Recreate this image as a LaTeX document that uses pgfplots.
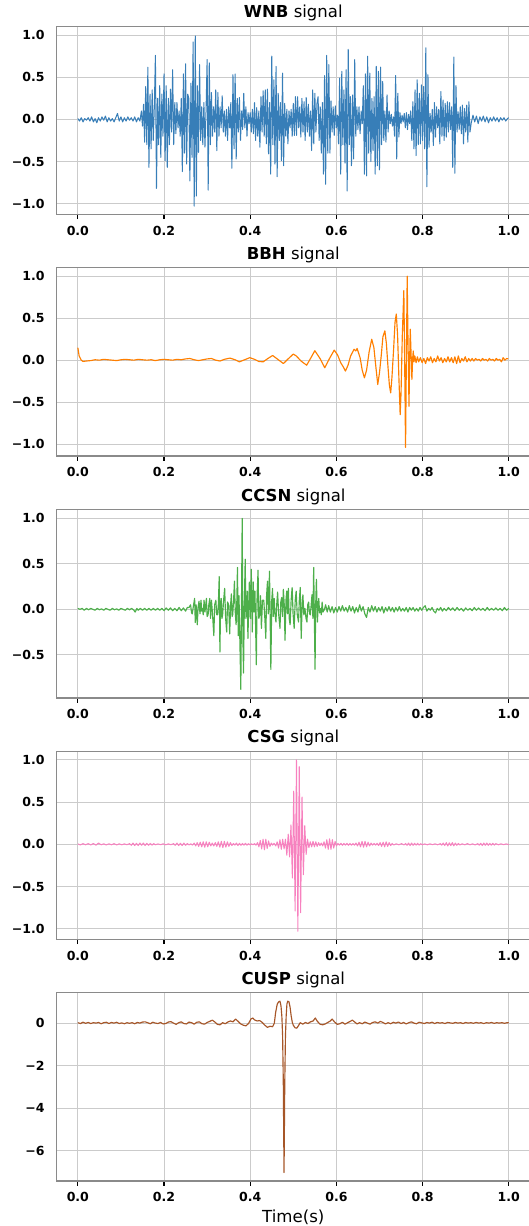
\documentclass[border=0pt]{standalone}
\usepackage{pgfplots}
\pgfplotsset{compat=1.18}
\usepackage{fontspec}
\setmainfont{DejaVu Sans}
\definecolor{cBlue}{HTML}{377EB8}
\definecolor{cOrange}{HTML}{FF7F00}
\definecolor{cGreen}{HTML}{4DAF4A}
\definecolor{cPink}{HTML}{F781BF}
\definecolor{cBrown}{HTML}{A65628}
\definecolor{gridc}{HTML}{CBCBCB}
\definecolor{spinec}{HTML}{8A8A8A}
\pgfplotsset{
  panel/.style={
    scale only axis, width=474pt, height=188.3pt,
    anchor=north west,
    xmin=-0.05, xmax=1.05,
    xtick={0,0.2,0.4,0.6,0.8,1.0},
    xticklabels={0.0,0.2,0.4,0.6,0.8,1.0},
    grid=major,
    major grid style={draw=gridc, line width=0.9pt},
    axis line style={draw=spinec, line width=1.1pt},
    tick align=outside,
    major tick length=4.5pt,
    xtick pos=left, ytick pos=left,
    xtick style={draw=black, line width=1.1pt},
    ytick style={draw=none},
    ticklabel style={font=\fontsize{12.5}{15}\selectfont\bfseries},
    xticklabel style={anchor=north, inner sep=0pt, yshift=-7pt},
    yticklabel style={anchor=east, inner sep=0pt, xshift=-7pt},
    title style={font=\fontsize{16.5}{20}\selectfont, anchor=base, at={(0.5,1)}, yshift=2.6pt, inner sep=0pt},
    every axis plot/.append style={line join=round, line width=1.15pt},
  }
}
\begin{document}
\begin{tikzpicture}
% ---------------- WNB ----------------
\begin{axis}[panel, at={(56.3pt,-26.3pt)}, ymin=-1.13, ymax=1.105,
  ytick={-1,-0.5,0,0.5,1}, yticklabels={−1.0,−0.5,0.0,0.5,1.0},
  title={\textbf{WNB} signal}]
\addplot[cBlue, line width=1pt] coordinates {
(0.000,0.01)(0.004,-0.02)(0.008,0.02)(0.012,-0.03)(0.016,0.01)(0.020,-0.01)(0.024,0.02)(0.028,-0.02)
(0.032,0.03)(0.036,-0.03)(0.040,0.01)(0.044,-0.04)(0.048,0.02)(0.052,-0.02)(0.056,0.03)(0.060,-0.01)
(0.064,0.04)(0.068,-0.03)(0.072,0.02)(0.076,-0.02)(0.080,0.01)(0.084,-0.03)(0.088,0.02)(0.092,0.07)
(0.096,-0.02)(0.100,0.03)(0.104,-0.03)(0.108,0.02)(0.112,-0.02)(0.116,0.03)(0.120,-0.01)(0.124,0.02)
(0.128,-0.02)(0.132,0.03)(0.136,-0.03)(0.140,0.02)(0.144,-0.02)
(0.1475,0.10)(0.1500,-0.08)(0.1525,0.18)(0.1550,-0.27)
(0.1575,0.39)(0.1600,-0.30)(0.1625,0.62)(0.1650,-0.57)
(0.1675,0.30)(0.1700,-0.35)(0.1725,0.35)(0.1750,-0.25)
(0.1775,0.15)(0.1800,0.76)(0.1825,-0.82)(0.1850,0.25)
(0.1875,-0.30)(0.1900,0.40)(0.1925,-0.45)(0.1950,0.30)
(0.1975,-0.20)(0.2000,0.54)(0.2025,-0.49)(0.2050,0.40)
(0.2075,-0.57)(0.2100,0.25)(0.2125,-0.30)(0.2150,0.36)
(0.2175,-0.15)(0.2200,0.59)(0.2225,-0.30)(0.2250,0.20)
(0.2275,-0.17)(0.2300,0.20)(0.2325,-0.10)(0.2350,0.10)
(0.2375,-0.20)(0.2400,0.25)(0.2425,-0.62)(0.2450,0.54)
(0.2475,-0.40)(0.2500,0.66)(0.2525,-0.53)(0.2550,0.30)
(0.2575,0.25)(0.2600,-0.73)(0.2625,0.43)(0.2650,-0.45)
(0.2675,0.92)(0.2700,-1.03)(0.2725,0.99)(0.2750,-0.91)
(0.2775,0.40)(0.2800,-0.39)(0.2825,0.65)(0.2850,-0.25)
(0.2875,0.15)(0.2900,-0.30)(0.2925,0.20)(0.2950,-0.33)
(0.2975,0.10)(0.3000,0.71)(0.3025,-0.84)(0.3050,0.67)
(0.3075,-0.30)(0.3100,0.32)(0.3125,-0.20)(0.3150,0.15)
(0.3175,-0.15)(0.3200,0.35)(0.3225,-0.37)(0.3250,0.32)
(0.3275,-0.20)(0.3300,0.15)(0.3325,-0.10)(0.3350,0.28)
(0.3375,-0.15)(0.3400,0.10)(0.3425,-0.20)(0.3450,0.12)
(0.3475,-0.25)(0.3500,0.15)(0.3525,-0.10)(0.3550,0.20)
(0.3575,-0.58)(0.3600,0.53)(0.3625,-0.35)(0.3650,0.54)
(0.3675,-0.47)(0.3700,0.25)(0.3725,-0.15)(0.3750,0.26)
(0.3775,-0.25)(0.3800,0.10)(0.3825,-0.12)(0.3850,0.31)
(0.3875,-0.10)(0.3900,0.15)(0.3925,-0.20)(0.3950,0.08)
(0.3975,-0.05)(0.4000,0.08)(0.4025,-0.15)(0.4050,0.12)
(0.4075,-0.17)(0.4100,0.20)(0.4125,-0.25)(0.4150,0.14)
(0.4175,-0.20)(0.4200,0.10)(0.4225,-0.33)(0.4250,0.27)
(0.4275,-0.15)(0.4300,0.34)(0.4325,-0.20)(0.4350,0.35)
(0.4375,-0.29)(0.4400,0.36)(0.4425,-0.41)(0.4450,0.20)
(0.4475,-0.65)(0.4500,0.75)(0.4525,-0.30)(0.4550,0.47)
(0.4575,-0.53)(0.4600,0.63)(0.4625,-0.68)(0.4650,0.31)
(0.4675,-0.25)(0.4700,0.20)(0.4725,-0.49)(0.4750,0.55)
(0.4775,-0.55)(0.4800,0.19)(0.4825,-0.20)(0.4850,0.12)
(0.4875,-0.29)(0.4900,0.10)(0.4925,-0.10)(0.4950,0.12)
(0.4975,-0.20)(0.5000,0.19)(0.5025,-0.19)(0.5050,0.27)
(0.5075,-0.19)(0.5100,0.27)(0.5125,-0.10)(0.5150,0.15)
(0.5175,-0.21)(0.5200,0.25)(0.5225,-0.15)(0.5250,0.21)
(0.5275,-0.25)(0.5300,0.26)(0.5325,-0.15)(0.5350,0.18)
(0.5375,-0.20)(0.5400,0.10)(0.5425,-0.37)(0.5450,0.35)
(0.5475,-0.29)(0.5500,0.31)(0.5525,-0.15)(0.5550,0.19)
(0.5575,0.27)(0.5600,-0.25)(0.5625,0.15)(0.5650,-0.40)
(0.5675,0.20)(0.5700,-0.65)(0.5725,0.52)(0.5750,-0.77)
(0.5775,0.76)(0.5800,-0.40)(0.5825,0.65)(0.5850,-0.40)
(0.5875,0.22)(0.5900,-0.15)(0.5925,0.15)(0.5950,-0.19)
(0.5975,0.16)(0.6000,-0.10)(0.6025,0.05)(0.6050,-0.29)
(0.6075,0.49)(0.6100,-0.65)(0.6125,0.57)(0.6150,-0.30)
(0.6175,0.35)(0.6200,-0.52)(0.6225,0.59)(0.6250,-0.85)
(0.6275,0.83)(0.6300,-0.30)(0.6325,0.27)(0.6350,-0.55)
(0.6375,0.29)(0.6400,-0.47)(0.6425,0.71)(0.6450,-0.20)
(0.6475,0.15)(0.6500,-0.12)(0.6525,0.15)(0.6550,-0.17)
(0.6575,0.10)(0.6600,-0.05)(0.6625,0.40)(0.6650,-0.65)
(0.6675,0.54)(0.6700,-0.67)(0.6725,0.75)(0.6750,-0.40)
(0.6775,0.55)(0.6800,-0.50)(0.6825,0.25)(0.6850,-0.37)
(0.6875,0.27)(0.6900,-0.65)(0.6925,0.63)(0.6950,-0.55)
(0.6975,0.57)(0.7000,-0.60)(0.7025,0.62)(0.7050,-0.30)
(0.7075,0.45)(0.7100,-0.25)(0.7125,0.10)(0.7150,-0.27)
(0.7175,0.29)(0.7200,-0.15)(0.7225,0.10)(0.7250,-0.05)
(0.7275,0.06)(0.7300,-0.08)(0.7325,0.03)(0.7350,-0.20)
(0.7375,0.52)(0.7400,-0.47)(0.7425,0.31)(0.7450,-0.21)
(0.7475,0.08)(0.7500,-0.05)(0.7525,0.05)(0.7550,-0.03)
(0.7575,0.07)(0.7600,-0.10)(0.7625,0.08)(0.7650,-0.12)
(0.7675,0.06)(0.7700,-0.05)(0.7725,0.10)(0.7750,-0.25)
(0.7775,0.21)(0.7800,-0.35)(0.7825,0.35)(0.7850,-0.43)
(0.7875,0.47)(0.7900,-0.30)(0.7925,0.31)(0.7950,-0.29)
(0.7975,0.41)(0.8000,-0.25)(0.8025,0.39)(0.8050,-0.35)
(0.8075,0.85)(0.8100,-0.80)(0.8125,0.53)(0.8150,-0.33)
(0.8175,0.07)(0.8200,-0.15)(0.8225,0.12)(0.8250,-0.31)
(0.8275,0.20)(0.8300,-0.21)(0.8325,0.15)(0.8350,-0.10)
(0.8375,0.12)(0.8400,-0.29)(0.8425,0.33)(0.8450,-0.20)
(0.8475,0.23)(0.8500,-0.25)(0.8525,0.19)(0.8550,-0.21)
(0.8575,0.21)(0.8600,-0.15)(0.8625,0.20)(0.8650,-0.12)
(0.8675,0.15)(0.8700,-0.57)(0.8725,0.74)(0.8750,-0.64)
(0.8775,0.40)(0.8800,-0.15)(0.8825,0.09)(0.8850,-0.12)
(0.8875,0.15)(0.8900,-0.17)(0.8925,0.17)(0.8950,-0.29)
(0.8975,0.13)(0.9000,-0.15)(0.9025,0.17)(0.9050,-0.27)
(0.9075,0.21)(0.9100,-0.15)
(0.913,-0.04)(0.917,0.05)(0.921,-0.03)(0.925,0.04)(0.929,-0.05)(0.933,0.03)(0.937,-0.02)(0.941,0.04)
(0.945,-0.03)(0.949,0.03)(0.953,-0.04)(0.957,0.02)(0.961,-0.02)(0.965,0.03)(0.969,-0.02)(0.973,0.02)
(0.977,-0.03)(0.981,0.02)(0.985,-0.01)(0.989,0.02)(0.993,-0.02)(0.997,0.01)(1.000,0.02)
};
\end{axis}
% ---------------- BBH ----------------
\begin{axis}[panel, at={(56.3pt,-267.7pt)}, ymin=-1.142, ymax=1.102,
  ytick={-1,-0.5,0,0.5,1}, yticklabels={−1.0,−0.5,0.0,0.5,1.0},
  title={\textbf{BBH} signal}]
\addplot[cOrange] coordinates {
(0.000,0.15)(0.003,0.05)(0.008,0.00)(0.012,-0.015)(0.020,-0.01)(0.030,-0.005)(0.040,0.005)(0.050,0.00)
(0.060,0.01)(0.070,0.005)(0.080,0.00)(0.090,-0.005)(0.100,0.005)(0.110,0.01)(0.120,0.005)(0.130,0.00)
(0.140,0.01)(0.150,0.005)(0.160,0.00)(0.170,0.005)(0.180,-0.005)(0.190,0.005)(0.200,0.01)(0.210,0.005)
(0.220,0.00)(0.230,0.01)(0.240,0.005)(0.250,0.015)(0.260,0.02)(0.270,0.005)(0.280,-0.005)(0.290,0.005)
(0.300,0.015)(0.310,0.02)(0.320,0.00)(0.330,-0.01)(0.340,0.01)(0.353,0.025)(0.365,0.005)(0.375,-0.02)
(0.387,0.005)(0.399,0.03)(0.410,0.01)(0.420,-0.015)(0.430,-0.02)(0.441,0.02)(0.452,0.056)(0.464,0.01)
(0.477,-0.04)(0.489,0.02)(0.500,0.073)(0.507,0.05)(0.518,-0.01)(0.531,-0.06)(0.541,0.03)(0.550,0.113)
(0.562,0.02)(0.573,-0.09)(0.584,0.02)(0.595,0.12)(0.603,0.06)(0.610,-0.03)(0.616,-0.08)(0.621,-0.13)
(0.627,-0.06)(0.633,0.05)(0.641,0.13)(0.645,0.11)(0.648,0.14)(0.655,0.03)(0.660,-0.12)(0.665,-0.21)
(0.670,-0.12)(0.676,0.10)(0.682,0.25)(0.687,0.15)(0.691,-0.05)(0.696,-0.29)(0.700,-0.15)(0.704,0.05)
(0.708,0.28)(0.7125,0.35)(0.716,0.20)(0.720,-0.10)(0.723,-0.30)(0.726,-0.39)(0.729,-0.20)(0.733,0.15)
(0.736,0.45)(0.739,0.55)(0.742,0.30)(0.745,-0.20)(0.748,-0.65)(0.750,-0.40)(0.753,0.30)(0.7565,0.83)
(0.758,0.20)(0.7605,-1.04)(0.762,-0.20)(0.7643,1.0)(0.766,0.30)(0.7685,-0.55)(0.770,0.0)(0.7714,0.37)
(0.7735,0.05)(0.7752,-0.23)(0.777,0.02)(0.7784,0.11)(0.780,-0.02)(0.782,0.05)(0.785,-0.03)
(0.788,0.04)(0.791,-0.02)(0.795,0.03)(0.799,-0.03)(0.803,0.02)(0.807,-0.04)(0.811,0.03)(0.815,-0.01)
(0.819,0.04)(0.823,-0.03)(0.827,0.02)(0.831,-0.02)(0.835,0.05)(0.839,-0.01)(0.843,0.03)(0.847,-0.03)
(0.851,0.02)(0.855,-0.02)(0.859,0.04)(0.863,-0.02)(0.867,0.03)(0.871,-0.03)(0.875,0.04)(0.879,-0.04)
(0.883,0.05)(0.887,-0.03)(0.891,0.02)(0.895,-0.01)(0.899,0.04)(0.903,-0.02)(0.907,0.02)(0.911,-0.01)
(0.915,0.02)(0.919,-0.01)(0.923,0.02)(0.927,0.00)(0.931,0.01)(0.935,-0.01)(0.939,0.02)(0.943,0.00)
(0.947,0.01)(0.951,-0.01)(0.955,0.02)(0.959,0.00)(0.963,0.01)(0.967,-0.01)(0.971,0.02)(0.975,0.00)
(0.979,0.01)(0.983,-0.02)(0.987,0.03)(0.991,0.00)(0.995,0.02)(0.999,0.015)
};
\end{axis}
% ---------------- CCSN ----------------
\begin{axis}[panel, at={(56.3pt,-509.7pt)}, ymin=-0.975, ymax=1.095,
  ytick={-0.5,0,0.5,1}, yticklabels={−0.5,0.0,0.5,1.0},
  title={\textbf{CCSN} signal}]
\addplot[cGreen] coordinates {
(0.000,0.01)(0.005,0.00)(0.010,0.01)(0.015,-0.01)(0.020,0.01)(0.025,-0.005)(0.030,0.01)(0.035,0.00)
(0.040,-0.01)(0.045,0.01)(0.050,-0.005)(0.055,0.005)(0.060,-0.01)(0.065,0.01)(0.070,0.00)(0.075,-0.01)
(0.080,0.01)(0.085,-0.005)(0.090,0.005)(0.095,-0.01)(0.100,0.01)(0.105,0.00)(0.110,-0.01)(0.115,0.01)
(0.120,-0.005)(0.125,0.01)(0.130,-0.01)(0.133,-0.03)(0.137,0.01)(0.140,-0.01)(0.145,0.01)(0.150,-0.01)
(0.155,0.01)(0.160,-0.01)(0.165,0.01)(0.170,-0.01)(0.175,0.01)(0.180,-0.01)(0.185,0.01)(0.190,-0.01)
(0.195,0.01)(0.200,-0.015)(0.205,0.015)(0.210,-0.01)(0.215,0.015)(0.220,-0.015)(0.225,0.01)(0.230,-0.015)
(0.235,0.02)(0.240,-0.015)(0.245,0.015)(0.250,-0.02)(0.254,0.02)
(0.2580,0.02)(0.2616,0.05)(0.2640,-0.04)(0.2655,-0.05)(0.2680,0.03)(0.2710,0.12)(0.2725,-0.145)(0.2745,0.05)
(0.2772,-0.17)(0.2790,0.02)(0.2812,0.09)(0.2835,-0.05)(0.2858,0.10)(0.2875,-0.02)(0.2890,0.01)(0.2910,-0.06)
(0.2929,0.10)(0.2950,-0.03)(0.2984,0.12)(0.3000,-0.08)(0.3023,-0.06)(0.3040,0.05)(0.3062,0.12)(0.3080,-0.10)
(0.3101,0.10)(0.3125,-0.05)(0.3156,-0.29)(0.3175,0.05)(0.3203,0.10)(0.3222,-0.06)(0.3242,-0.06)(0.3260,0.05)
(0.3281,0.36)(0.3297,-0.47)(0.3312,0.02)(0.3328,0.12)(0.3345,-0.10)(0.3360,-0.06)(0.3383,0.10)(0.3407,0.23)
(0.3430,-0.10)(0.3454,-0.25)(0.3475,0.08)(0.3500,0.05)(0.3524,-0.27)(0.3545,0.05)(0.3563,0.17)(0.3580,-0.08)
(0.3594,-0.06)(0.3615,0.10)(0.3634,0.31)(0.3655,-0.05)(0.3673,-0.17)(0.3690,0.10)(0.3704,0.46)(0.3722,-0.29)
(0.3740,0.15)(0.3760,-0.35)(0.3782,-0.88)(0.3800,0.20)(0.3814,1.00)(0.3830,-0.30)(0.3845,-0.70)(0.3865,0.10)
(0.3884,0.55)(0.3900,-0.10)(0.3915,-0.06)(0.3930,0.20)(0.3947,-0.32)(0.3965,0.05)(0.3980,0.30)(0.4002,-0.10)
(0.4025,0.44)(0.4048,-0.25)(0.4070,0.30)(0.4088,-0.03)(0.4110,0.20)(0.4142,-0.61)(0.4160,0.15)(0.4182,0.43)
(0.4200,-0.10)(0.4221,-0.06)(0.4240,0.15)(0.4260,-0.21)(0.4285,0.10)(0.4315,0.10)(0.4340,-0.10)(0.4362,-0.32)
(0.4380,0.15)(0.4401,0.31)(0.4420,-0.05)(0.4448,0.42)(0.4479,-0.66)(0.4500,0.10)(0.4518,0.23)(0.4535,-0.08)
(0.4557,0.12)(0.4575,-0.05)(0.4597,-0.14)(0.4615,0.05)(0.4636,0.19)(0.4660,-0.05)(0.4691,-0.21)(0.4710,0.08)
(0.4730,0.13)(0.4750,-0.08)(0.4769,0.22)(0.4790,0.05)(0.4808,-0.34)(0.4830,0.10)(0.4847,0.20)(0.4865,-0.05)
(0.4886,0.23)(0.4905,-0.10)(0.4926,-0.17)(0.4950,0.10)(0.4973,0.24)(0.4995,-0.05)(0.5020,-0.21)(0.5045,0.10)
(0.5067,0.20)(0.5090,-0.05)(0.5121,-0.14)(0.5140,0.10)(0.5161,0.24)(0.5184,-0.32)(0.5205,0.05)(0.5223,0.16)
(0.5245,-0.06)(0.5270,0.01)(0.5295,-0.10)(0.5317,-0.14)(0.5335,0.05)(0.5356,0.08)(0.5375,-0.05)(0.5395,-0.06)
(0.5415,0.05)(0.5434,0.16)(0.5455,-0.10)(0.5473,0.46)(0.5505,-0.66)(0.5520,0.05)(0.5536,0.33)(0.5560,-0.14)
(0.5575,0.02)(0.5591,0.12)(0.5610,-0.04)(0.5630,0.01)(0.5650,-0.06)(0.5669,0.08)(0.5690,-0.03)(0.5724,0.00)
(0.5750,0.05)(0.5787,-0.03)
(0.582,0.04)(0.586,-0.03)(0.590,0.03)(0.594,-0.04)(0.598,0.02)(0.602,-0.03)(0.606,0.03)(0.610,-0.02)
(0.614,0.04)(0.618,-0.02)(0.622,0.02)(0.626,-0.03)(0.630,0.04)(0.634,-0.02)(0.638,0.03)(0.642,-0.04)
(0.646,0.02)(0.650,-0.03)(0.654,0.05)(0.658,-0.02)(0.662,0.03)(0.666,-0.05)(0.670,-0.09)(0.674,0.02)
(0.678,-0.03)(0.682,0.04)(0.686,-0.02)(0.690,0.03)(0.694,-0.03)(0.698,0.02)(0.702,-0.02)(0.706,0.03)
(0.710,-0.04)(0.714,0.02)(0.718,-0.02)(0.722,0.03)(0.726,-0.02)(0.730,0.02)(0.734,-0.03)(0.738,0.02)
(0.742,-0.02)(0.746,0.03)(0.750,-0.02)(0.754,0.01)(0.758,-0.02)(0.762,0.02)(0.766,-0.03)(0.770,0.02)
(0.774,-0.01)(0.778,0.02)(0.782,-0.02)(0.786,0.01)(0.790,-0.02)(0.794,0.02)(0.798,-0.01)(0.802,0.02)
(0.806,0.04)(0.810,-0.02)(0.814,0.01)(0.818,-0.01)(0.822,0.02)(0.826,-0.02)(0.830,-0.04)(0.834,0.01)
(0.838,-0.01)(0.842,0.02)(0.846,-0.02)(0.850,0.01)(0.855,-0.015)(0.860,0.02)(0.865,-0.01)(0.870,0.015)
(0.875,-0.015)(0.880,0.02)(0.885,-0.01)(0.890,0.01)(0.895,-0.02)(0.900,0.015)(0.905,-0.01)(0.910,0.01)
(0.915,-0.015)(0.920,0.02)(0.925,-0.01)(0.930,0.015)(0.935,-0.01)(0.940,0.01)(0.945,-0.015)(0.950,0.02)
(0.955,-0.01)(0.960,0.01)(0.965,-0.01)(0.970,0.015)(0.975,-0.01)(0.980,0.01)(0.985,-0.015)(0.990,0.02)
(0.995,-0.01)(1.000,0.01)
};
\end{axis}
% ---------------- CSG ----------------
\begin{axis}[panel, at={(56.3pt,-751.4pt)}, ymin=-1.13, ymax=1.10,
  ytick={-1,-0.5,0,0.5,1}, yticklabels={−1.0,−0.5,0.0,0.5,1.0},
  title={\textbf{CSG} signal}]
\addplot[cPink, line width=1pt] coordinates {
(0.000,0.005)(0.006,-0.008)(0.012,0.008)(0.018,-0.006)(0.024,0.008)(0.030,-0.008)(0.036,0.01)(0.042,-0.01)
(0.048,0.015)(0.054,-0.006)(0.060,0.006)(0.066,-0.008)(0.072,0.006)(0.078,-0.006)(0.084,0.008)(0.090,-0.008)
(0.096,0.006)(0.102,-0.006)(0.108,0.005)(0.114,-0.005)(0.120,0.008)
(0.124,-0.012)(0.128,0.015)(0.132,-0.015)(0.136,0.012)(0.140,-0.015)(0.144,0.015)(0.148,-0.012)(0.152,0.015)
(0.156,-0.015)(0.160,0.012)(0.164,-0.012)(0.168,0.010)(0.172,-0.010)(0.176,0.008)(0.180,-0.006)
(0.186,0.005)(0.192,-0.005)(0.198,0.006)(0.204,-0.006)(0.210,0.005)(0.216,-0.005)(0.222,0.008)
(0.226,-0.012)(0.230,0.015)(0.234,-0.015)(0.238,0.012)(0.242,-0.015)(0.246,0.015)(0.250,-0.012)(0.254,0.010)
(0.258,-0.008)(0.262,0.006)(0.266,-0.010)
(0.270,0.015)(0.2735,-0.02)(0.277,0.02)(0.2805,-0.025)(0.284,0.025)(0.2875,-0.03)(0.291,0.03)(0.2945,-0.035)
(0.298,0.03)(0.3015,-0.03)(0.305,0.025)(0.3085,-0.02)(0.312,0.015)(0.3155,-0.02)(0.319,0.02)(0.3225,-0.025)
(0.326,0.03)(0.3295,-0.035)(0.333,0.035)(0.3365,-0.04)(0.340,0.035)(0.3435,-0.035)(0.347,0.03)(0.3505,-0.025)
(0.354,0.02)(0.3575,-0.015)(0.361,0.01)
(0.3645,-0.01)(0.368,0.015)(0.3715,-0.015)(0.375,0.012)(0.3785,-0.012)(0.382,0.01)(0.3855,-0.01)(0.389,0.012)
(0.3925,-0.01)(0.396,0.008)(0.3995,-0.008)(0.403,0.006)(0.4065,-0.006)(0.410,0.008)(0.4135,-0.01)
(0.417,0.02)(0.4202,-0.03)(0.4234,0.045)(0.4266,-0.055)(0.4298,0.06)(0.433,-0.065)(0.4362,0.06)(0.4394,-0.05)
(0.4426,0.04)(0.4458,-0.025)(0.449,0.015)(0.4522,-0.01)(0.4554,0.012)
(0.4594,-0.02)(0.4626,0.03)(0.4658,-0.045)(0.4690,0.055)(0.4722,-0.06)(0.4754,0.06)(0.4786,-0.055)(0.4818,0.06)
(0.4850,-0.13)(0.4882,0.12)(0.4914,-0.15)(0.4946,0.23)(0.4978,-0.40)(0.5010,0.63)(0.5042,-0.79)(0.5074,1.00)
(0.5106,-1.03)(0.5138,0.92)(0.5170,-0.81)(0.5202,0.56)(0.5234,-0.36)(0.5266,0.22)(0.5298,-0.12)(0.5330,0.06)
(0.5362,-0.04)(0.5394,0.03)(0.5426,-0.03)(0.5458,0.035)(0.5490,-0.03)(0.5522,0.03)(0.5554,-0.025)(0.5586,0.02)
(0.5618,-0.015)(0.5650,0.015)(0.5682,-0.02)(0.5714,0.03)(0.5746,-0.045)(0.5778,0.055)(0.5810,-0.06)(0.5842,0.065)
(0.5874,-0.06)(0.5906,0.055)(0.5938,-0.045)(0.5970,0.035)(0.6002,-0.02)(0.6034,0.01)
(0.607,-0.01)(0.6105,0.012)(0.614,-0.012)(0.6175,0.01)(0.621,-0.01)(0.6245,0.012)(0.628,-0.012)(0.6315,0.01)
(0.635,-0.01)(0.6385,0.008)(0.642,-0.01)(0.6455,0.015)
(0.649,-0.02)(0.6525,0.025)(0.656,-0.03)(0.6595,0.035)(0.663,-0.035)(0.6665,0.035)(0.670,-0.03)(0.6735,0.025)
(0.677,-0.02)(0.6805,0.015)(0.684,-0.01)(0.6875,0.01)(0.691,-0.01)(0.6945,0.012)(0.698,-0.015)
(0.7015,0.02)(0.705,-0.025)(0.7085,0.025)(0.712,-0.03)(0.7155,0.03)(0.719,-0.025)(0.7225,0.02)(0.726,-0.015)
(0.7295,0.01)(0.733,-0.008)(0.739,0.006)(0.745,-0.006)(0.751,0.008)(0.757,-0.008)
(0.7605,0.01)(0.764,-0.012)(0.7675,0.015)(0.771,-0.015)(0.7745,0.015)(0.778,-0.012)(0.7815,0.012)(0.785,-0.01)
(0.7885,0.012)(0.792,-0.01)(0.7955,0.008)(0.799,-0.006)
(0.805,0.005)(0.811,-0.006)(0.817,0.006)(0.823,-0.005)(0.829,0.006)(0.835,-0.006)(0.841,0.008)
(0.8445,-0.01)(0.848,0.015)(0.8515,-0.015)(0.855,0.02)(0.8585,-0.02)(0.862,0.018)(0.8655,-0.015)(0.869,0.02)
(0.8725,-0.018)(0.876,0.015)(0.8795,-0.012)(0.883,0.01)(0.8865,-0.008)
(0.892,0.006)(0.898,-0.006)(0.904,0.008)(0.910,-0.006)(0.916,0.006)(0.922,-0.008)(0.928,0.008)
(0.9315,-0.01)(0.935,0.012)(0.9385,-0.015)(0.942,0.015)(0.9455,-0.012)(0.949,0.015)(0.9525,-0.012)(0.956,0.01)
(0.9595,-0.01)(0.963,0.012)(0.9665,-0.01)(0.970,0.008)
(0.976,-0.006)(0.982,0.006)(0.988,-0.005)(0.994,0.005)(1.000,-0.004)
};
\end{axis}
% ---------------- CUSP ----------------
\begin{axis}[panel, at={(56.3pt,-992.7pt)}, ymin=-7.43, ymax=1.43,
  ytick={-6,-4,-2,0}, yticklabels={−6,−4,−2,0},
  title={\textbf{CUSP} signal},
  xlabel={Time(s)},
  xlabel style={font=\fontsize{16.6}{20}\selectfont, at={(axis description cs:0.5,0)}, anchor=base, yshift=-41.8pt, inner sep=0pt}]
\addplot[cBrown] coordinates {
(0.000,0.02)(0.006,-0.02)(0.012,0.04)(0.018,-0.01)(0.024,0.03)(0.030,-0.02)(0.036,0.02)(0.042,0.00)
(0.048,0.03)(0.054,-0.03)(0.060,0.02)(0.066,0.04)(0.072,-0.02)(0.078,0.03)(0.084,0.00)(0.090,0.04)
(0.096,-0.02)(0.102,0.01)(0.108,-0.03)(0.114,0.02)(0.120,-0.01)(0.126,0.02)(0.132,-0.03)(0.138,0.03)
(0.144,0.00)(0.150,0.05)(0.156,0.06)(0.162,0.02)(0.168,-0.03)(0.174,0.04)(0.180,0.00)(0.186,-0.02)
(0.192,0.03)(0.198,-0.04)(0.204,-0.02)(0.210,0.05)(0.216,0.07)(0.222,0.00)(0.228,-0.06)(0.234,0.02)
(0.240,0.06)(0.246,-0.02)(0.252,-0.04)(0.258,0.05)(0.264,0.02)(0.270,-0.05)(0.276,0.04)(0.282,0.06)
(0.288,-0.03)(0.294,-0.05)(0.300,0.03)(0.306,0.08)(0.312,0.14)(0.318,0.05)(0.324,-0.06)(0.330,-0.08)
(0.336,0.02)(0.342,-0.03)(0.348,0.05)(0.354,0.10)(0.360,0.06)(0.366,0.19)(0.372,0.08)(0.378,-0.04)
(0.384,-0.10)(0.390,-0.13)(0.396,-0.02)(0.402,0.20)(0.406,0.24)(0.410,0.15)(0.416,0.10)(0.422,0.12)
(0.428,0.03)(0.434,-0.10)(0.440,-0.20)(0.446,-0.15)(0.452,-0.17)(0.456,0.00)(0.459,0.50)(0.4628,0.90)
(0.466,1.00)(0.4691,1.03)(0.4715,0.80)(0.4735,0.30)(0.4752,-0.6)(0.4768,-2.8)(0.4779,-5.6)(0.4785,-7.03)
(0.4791,-5.6)(0.4802,-2.8)(0.4818,-0.6)(0.4835,0.35)(0.4852,0.90)(0.4871,1.03)(0.4900,1.00)(0.4925,0.75)
(0.4950,0.35)(0.4975,0.05)(0.5000,-0.10)(0.5040,-0.22)(0.5080,-0.24)(0.5120,-0.12)(0.516,0.02)(0.522,-0.05)
(0.528,0.03)(0.534,-0.02)(0.540,0.06)(0.546,0.10)(0.551,0.24)(0.556,0.08)(0.562,-0.05)(0.568,-0.08)
(0.574,-0.04)(0.580,0.03)(0.586,0.10)(0.590,0.19)(0.596,0.05)(0.602,-0.06)(0.608,-0.03)(0.614,0.04)
(0.620,-0.05)(0.626,0.02)(0.632,0.08)(0.637,0.14)(0.642,0.06)(0.648,-0.04)(0.654,0.02)(0.660,-0.03)
(0.666,0.05)(0.672,0.00)(0.678,-0.05)(0.684,0.03)(0.690,0.06)(0.696,0.00)(0.702,0.08)(0.708,0.03)
(0.714,-0.04)(0.720,0.02)(0.726,-0.03)(0.732,0.04)(0.738,0.00)(0.744,0.05)(0.750,-0.02)(0.756,0.03)
(0.762,-0.04)(0.768,0.02)(0.774,0.06)(0.780,0.00)(0.786,-0.03)(0.792,0.04)(0.798,0.01)(0.804,-0.02)
(0.810,0.03)(0.816,0.00)(0.822,0.04)(0.828,-0.02)(0.834,0.03)(0.840,0.00)(0.846,0.02)(0.852,-0.02)
(0.858,0.03)(0.864,0.01)(0.870,-0.01)(0.876,0.03)(0.882,0.00)(0.888,0.02)(0.894,-0.02)(0.900,0.03)
(0.906,0.00)(0.912,0.02)(0.918,-0.01)(0.924,0.03)(0.930,0.00)(0.936,0.02)(0.942,-0.02)(0.948,0.02)
(0.954,0.00)(0.960,0.03)(0.966,-0.01)(0.972,0.02)(0.978,0.00)(0.984,0.02)(0.990,-0.01)(0.996,0.02)
(1.000,0.01)
};
\end{axis}
\pgfresetboundingbox
\useasboundingbox (0pt,0pt) rectangle (529pt,-1226pt);
\end{tikzpicture}
\end{document}
